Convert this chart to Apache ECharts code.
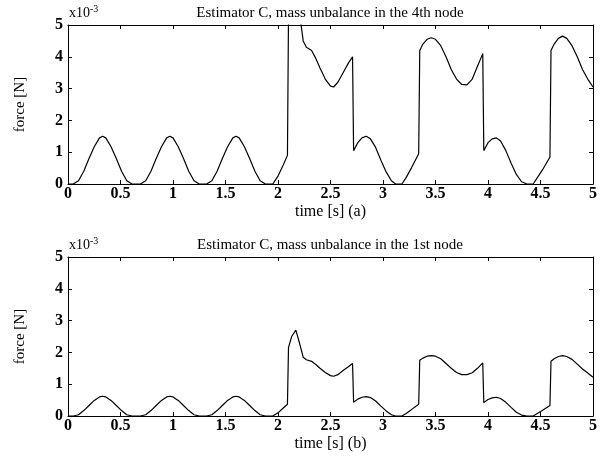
<!DOCTYPE html>
<html>
<head>
<meta charset="utf-8">
<script src="https://cdn.jsdelivr.net/npm/echarts@6/dist/echarts.min.js"></script>
<style>html,body{margin:0;padding:0;background:#fff}#c{width:603px;height:464px}</style>
</head>
<body>
<div id="c"></div>
<script>
// force values in units of 1e-3 N
var timeA = [0,0.05,0.10,0.15,0.20,0.25,0.30,0.33,0.36,0.41,0.46,0.51,0.56,0.61,0.69,0.74,0.79,0.84,0.89,0.94,0.97,1.00,1.05,1.10,1.15,1.20,1.25,1.32,1.37,1.42,1.47,1.52,1.57,1.60,1.63,1.68,1.73,1.78,1.83,1.88,1.95,2.00,2.05,2.09,2.10,2.13,2.17,2.20,2.24,2.27,2.32,2.36,2.40,2.45,2.50,2.53,2.57,2.62,2.67,2.71,2.72,2.76,2.80,2.84,2.88,2.93,2.98,3.03,3.08,3.12,3.18,3.22,3.27,3.34,3.35,3.38,3.42,3.46,3.50,3.55,3.60,3.65,3.70,3.75,3.80,3.85,3.90,3.95,3.96,4.00,4.04,4.08,4.12,4.17,4.22,4.27,4.32,4.37,4.43,4.47,4.52,4.59,4.60,4.63,4.67,4.71,4.75,4.80,4.85,4.90,4.95,5.00];
var forceA = [0,0,0.1,0.4,0.8,1.17,1.45,1.5,1.45,1.17,0.8,0.4,0.1,0,0,0.1,0.4,0.8,1.17,1.45,1.5,1.45,1.17,0.8,0.4,0.1,0,0,0.1,0.4,0.8,1.17,1.45,1.5,1.45,1.17,0.8,0.4,0.1,0,0,0.25,0.6,0.9,5.3,6.2,6.6,5.5,4.5,4.3,4.2,3.95,3.65,3.3,3.08,3.05,3.2,3.5,3.8,4.0,1.05,1.3,1.45,1.5,1.42,1.15,0.75,0.38,0.1,0,0,0.2,0.5,0.95,4.2,4.4,4.55,4.6,4.55,4.35,4.0,3.6,3.3,3.13,3.12,3.3,3.7,4.1,1.05,1.3,1.42,1.45,1.35,1.05,0.65,0.3,0.07,0,0,0.2,0.45,0.85,4.2,4.4,4.58,4.65,4.58,4.35,4.0,3.6,3.3,3.05];
var timeB = timeA;
var forceB = [0,0,0.04,0.17,0.33,0.49,0.6,0.62,0.6,0.49,0.33,0.17,0.04,0,0,0.04,0.17,0.33,0.49,0.6,0.62,0.6,0.49,0.33,0.17,0.04,0,0,0.04,0.17,0.33,0.49,0.6,0.62,0.6,0.49,0.33,0.17,0.04,0,0,0.1,0.25,0.37,2.15,2.5,2.7,2.35,1.85,1.77,1.72,1.62,1.5,1.37,1.27,1.25,1.3,1.43,1.55,1.65,0.43,0.53,0.59,0.61,0.58,0.47,0.31,0.16,0.04,0,0,0.08,0.2,0.37,1.75,1.82,1.88,1.9,1.88,1.8,1.65,1.5,1.37,1.3,1.3,1.36,1.5,1.67,0.42,0.52,0.57,0.59,0.55,0.43,0.27,0.12,0.03,0,0,0.08,0.18,0.33,1.72,1.8,1.87,1.9,1.87,1.78,1.63,1.48,1.35,1.22];
var titles = ['Estimator C, mass unbalance in the 4th node', 'Estimator C, mass unbalance in the 1st node'];
var xNames = ['time [s] (a)', 'time [s] (b)'];
var yName = 'force [N]';
var scaleLabel = 'x10{s|-3}';

var FONT = 'Liberation Serif';
function pairs(t, f){ return t.map(function(v,i){ return [v, f[i]]; }); }
var grids = [{left:68, right:10, top:25, height:159}, {left:68, right:10, top:257, height:159}];
var xAxes = [], yAxes = [], series = [], graphics = [];
var tickStyle = {inside:true, length:4, lineStyle:{color:'#000'}};
var lineStyle = {onZero:false, lineStyle:{color:'#000', width:1}};
grids.forEach(function(g, gi){
  xAxes.push({type:'value', gridIndex:gi, min:0, max:5, interval:0.5, position:'bottom',
    name:xNames[gi], nameLocation:'middle', nameGap:20,
    nameTextStyle:{fontFamily:FONT, fontSize:16, color:'#000'},
    axisLine:lineStyle, axisTick:tickStyle,
    axisLabel:{fontFamily:FONT, fontSize:16, fontWeight:'bold', color:'#000', margin:2},
    splitLine:{show:false}});
  xAxes.push({type:'value', gridIndex:gi, min:0, max:5, interval:0.5, position:'top',
    axisLine:lineStyle, axisTick:tickStyle,
    axisLabel:{show:false}, splitLine:{show:false}});
  yAxes.push({type:'value', gridIndex:gi, min:0, max:5, interval:1, position:'left',
    name:yName, nameLocation:'middle', nameGap:40, nameRotate:90,
    nameTextStyle:{fontFamily:FONT, fontSize:15, color:'#000'},
    axisLine:{show:true, onZero:false, lineStyle:{color:'#000', width:1}},
    axisTick:{show:true, inside:true, length:4, lineStyle:{color:'#000'}},
    axisLabel:{fontFamily:FONT, fontSize:16, fontWeight:'bold', color:'#000', margin:5},
    splitLine:{show:false}});
  yAxes.push({type:'value', gridIndex:gi, min:0, max:5, interval:1, position:'right',
    axisLine:{show:true, onZero:false, lineStyle:{color:'#000', width:1}},
    axisTick:{show:true, inside:true, length:4, lineStyle:{color:'#000'}},
    axisLabel:{show:false}, splitLine:{show:false}});
  graphics.push({type:'text', x:330, y:g.top-12, style:{text:titles[gi], fill:'#000', font:'15px "'+FONT+'"', textAlign:'center', textVerticalAlign:'middle'}});
  graphics.push({type:'text', x:69, y:g.top-12, style:{text:scaleLabel, fill:'#000', font:'14px "'+FONT+'"', textAlign:'left', textVerticalAlign:'middle', rich:{s:{fontSize:10, fontFamily:FONT, verticalAlign:'top', padding:[0,0,7,0]}}}});
});
series.push({type:'line', xAxisIndex:0, yAxisIndex:0, data:pairs(timeA, forceA), showSymbol:false, lineStyle:{color:'#000', width:1.2}, clip:true, animation:false});
series.push({type:'line', xAxisIndex:2, yAxisIndex:2, data:pairs(timeB, forceB), showSymbol:false, lineStyle:{color:'#000', width:1.2}, clip:true, animation:false});

var chart = echarts.init(document.getElementById('c'));
chart.setOption({animation:false, grid:grids, xAxis:xAxes, yAxis:yAxes, series:series, graphic:graphics});
</script>
</body>
</html>
